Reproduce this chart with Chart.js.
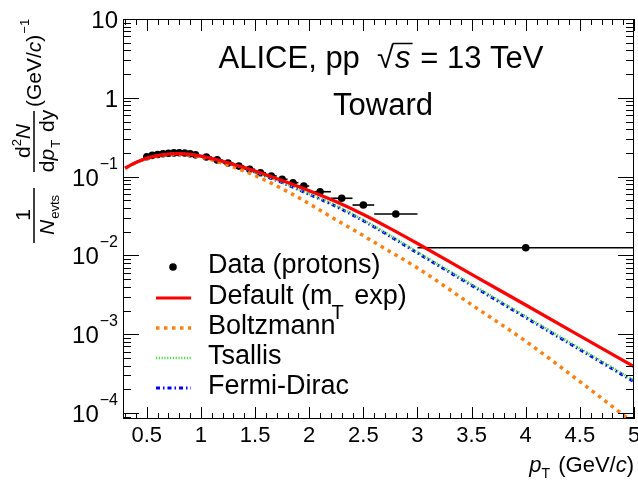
<!DOCTYPE html>
<html>
<head>
<meta charset="utf-8">
<script src="https://cdn.jsdelivr.net/npm/chart.js@4.4.0/dist/chart.umd.min.js"></script>
<style>
  html, body { margin: 0; padding: 0; background: #ffffff; }
</style>
</head>
<body>
<canvas id="graph1" width="638" height="484"></canvas>
<script>
// measured proton yields (Toward region)
const ptData = [0.5, 0.55, 0.6, 0.65, 0.7, 0.75, 0.8, 0.85, 0.9, 0.95, 1.05, 1.15, 1.25, 1.35, 1.45, 1.55, 1.65, 1.75, 1.85, 1.95, 2.1, 2.3, 2.5, 2.8, 4.0];
const ptLow = [0.475, 0.525, 0.575, 0.625, 0.675, 0.725, 0.775, 0.825, 0.875, 0.925, 1.0, 1.1, 1.2, 1.3, 1.4, 1.5, 1.6, 1.7, 1.8, 1.9, 2.0, 2.2, 2.4, 2.6, 3.0];
const ptHigh = [0.525, 0.575, 0.625, 0.675, 0.725, 0.775, 0.825, 0.875, 0.925, 0.975, 1.1, 1.2, 1.3, 1.4, 1.5, 1.6, 1.7, 1.8, 1.9, 2.0, 2.2, 2.4, 2.6, 3.0, 5.0];
const yieldData = [0.179, 0.186, 0.191, 0.195, 0.198, 0.200, 0.201, 0.199, 0.195, 0.189, 0.177, 0.163, 0.149, 0.136, 0.124, 0.112, 0.102, 0.0925, 0.0837, 0.076, 0.0643, 0.0531, 0.0436, 0.0335, 0.0125];

// blast-wave fits
const ptModel = [0.3, 0.4, 0.5, 0.6, 0.7, 0.8, 0.9, 1.0, 1.2, 1.4, 1.6, 1.8, 2.0, 2.25, 2.5, 2.75, 3.0, 3.5, 4.0, 4.5, 5.0];
const defaultFit = [0.1279, 0.1514, 0.1710, 0.1849, 0.1936, 0.1963, 0.1919, 0.1820, 0.1567, 0.1303, 0.1059, 0.0841, 0.0661, 0.0479, 0.0331, 0.0219, 0.01416, 0.00575, 0.00235, 0.000955, 0.000387];
const boltzmannFit = [0.1279, 0.1507, 0.1698, 0.1832, 0.1905, 0.1919, 0.1875, 0.1778, 0.1479, 0.1175, 0.0891, 0.0646, 0.0452, 0.0282, 0.0178, 0.01109, 0.00692, 0.00237, 0.000813, 0.000251, 0.0000741];
const tsallisFit = [0.1279, 0.1514, 0.1710, 0.1849, 0.1936, 0.1963, 0.1919, 0.1820, 0.1556, 0.1274, 0.1016, 0.0794, 0.0605, 0.0427, 0.0282, 0.0178, 0.01104, 0.00430, 0.001683, 0.000661, 0.000259];
const fermiDiracFit = [0.1279, 0.1514, 0.1710, 0.1849, 0.1936, 0.1963, 0.1919, 0.1820, 0.1556, 0.1274, 0.1012, 0.0785, 0.0596, 0.0417, 0.0275, 0.0174, 0.01074, 0.00417, 0.001626, 0.000638, 0.000250];

const xTickLabels = ['0.5', '1', '1.5', '2', '2.5', '3', '3.5', '4', '4.5', '5'];
const xTickValues = [0.5, 1, 1.5, 2, 2.5, 3, 3.5, 4, 4.5, 5];
const yTickValues = [1e-4, 1e-3, 1e-2, 1e-1, 1, 10];
const yTickExp = ['\u22124', '\u22123', '\u22122', '\u22121', '', ''];
const yTickBase = ['10', '10', '10', '10', '1', '10'];

const FONT = '"Liberation Sans", Arial, Helvetica, sans-serif';
const RED = '#ff0000', ORANGE = '#ff8010', GREEN = '#4fd84f', BLUE = '#0000ff';

function pts(xs, ys) {
    return xs.map((v, i) => ({ x: v, y: ys[i] }));
}

// draws a run of text pieces [text, font, dy, extra gap] left to right, returns end x
function runText(ctx, pieces, x, y) {
    pieces.forEach(p => {
        ctx.font = p[1];
        ctx.fillText(p[0], x, y + (p[2] || 0));
        x += ctx.measureText(p[0]).width + (p[3] || 0);
    });
    return x;
}
function runWidth(ctx, pieces) {
    let w = 0;
    pieces.forEach(p => { ctx.font = p[1]; w += ctx.measureText(p[0]).width + (p[3] || 0); });
    return w;
}

const rootFrame = {
    id: 'rootFrame',
    beforeDatasetsDraw(chart) {
        const { ctx, scales: { x, y } } = chart;
        ctx.save();
        ctx.strokeStyle = '#000';
        ctx.lineWidth = 1.6;
        ptData.forEach((v, i) => {
            const py = y.getPixelForValue(yieldData[i]);
            ctx.beginPath();
            ctx.moveTo(x.getPixelForValue(ptLow[i]), py);
            ctx.lineTo(x.getPixelForValue(ptHigh[i]), py);
            ctx.stroke();
        });
        ctx.restore();
    },
    afterDatasetsDraw(chart) {
        const { ctx, chartArea: a, scales: { x, y } } = chart;
        ctx.save();
        ctx.strokeStyle = '#000';
        ctx.fillStyle = '#000';
        ctx.lineWidth = 1;
        ctx.strokeRect(a.left + 0.5, a.top + 0.5, a.right - a.left - 1, a.bottom - a.top - 1);

        // x ticks, inward, top and bottom
        ctx.beginPath();
        for (let i = 3; i <= 50; i++) {
            const v = i / 10;
            const px = Math.round(x.getPixelForValue(v)) + 0.5;
            const len = (i % 5 === 0) ? 12 : 6;
            ctx.moveTo(px, a.bottom);
            ctx.lineTo(px, a.bottom - len);
            ctx.moveTo(px, a.top);
            ctx.lineTo(px, a.top + len);
        }
        // y ticks, log, left and right
        for (let d = -5; d <= 1; d++) {
            for (let k = 1; k <= 9; k++) {
                const v = k * Math.pow(10, d);
                if (v < y.min || v > y.max) continue;
                const py = Math.round(y.getPixelForValue(v)) + 0.5;
                const len = (k === 1) ? 16 : 8;
                ctx.moveTo(a.left, py);
                ctx.lineTo(a.left + len, py);
                ctx.moveTo(a.right, py);
                ctx.lineTo(a.right - len, py);
            }
        }
        ctx.stroke();

        // x tick labels
        ctx.font = '22px ' + FONT;
        ctx.textAlign = 'center';
        ctx.textBaseline = 'alphabetic';
        xTickValues.forEach((v, i) => {
            ctx.fillText(xTickLabels[i], x.getPixelForValue(v), a.bottom + 23);
        });

        // y tick labels
        ctx.textAlign = 'right';
        yTickValues.forEach((v, i) => {
            const py = y.getPixelForValue(v);
            let right = a.left - 5;
            if (yTickExp[i]) {
                ctx.font = '16px ' + FONT;
                ctx.fillText(yTickExp[i], right, py - 8);
                right -= ctx.measureText(yTickExp[i]).width + 1;
            }
            ctx.font = '24px ' + FONT;
            ctx.fillText(yTickBase[i], right, py + 9);
        });

        // x title
        ctx.textAlign = 'left';
        const xt = [['p', 'italic 22px ' + FONT, 0], ['T', '14px ' + FONT, 6, 2], [' (GeV/', '22px ' + FONT, 0], ['c', 'italic 22px ' + FONT, 0], [')', '22px ' + FONT, 0]];
        runText(ctx, xt, a.right - runWidth(ctx, xt), 472);

        // y title, rotated
        const tf = '21px ' + FONT, tfi = 'italic 21px ' + FONT, sf = '13px ' + FONT;
        ctx.save();
        ctx.rotate(-Math.PI / 2);
        ctx.lineWidth = 1.5;
        ctx.beginPath();
        ctx.moveTo(-243, 34); ctx.lineTo(-188, 34);
        ctx.moveTo(-172, 34); ctx.lineTo(-111, 34);
        ctx.stroke();
        ctx.textAlign = 'left';
        const f1n = [['1', tf, 0]];
        runText(ctx, f1n, -215 - runWidth(ctx, f1n) / 2, 30);
        const f1d = [['N', tfi, 0, 1], ['evts', sf, 5]];
        runText(ctx, f1d, -215 - runWidth(ctx, f1d) / 2, 54);
        const f2n = [['d', tf, 0], ['2', sf, -9], ['N', tfi, 0]];
        runText(ctx, f2n, -141 - runWidth(ctx, f2n) / 2, 30);
        const f2d = [['d', tf, 0], ['p', tfi, 0, 1], ['T', sf, 6, 2], [' dy', tf, 0]];
        runText(ctx, f2d, -141 - runWidth(ctx, f2d) / 2, 54);
        const u1 = [['(GeV/', tf, 0], ['c', tfi, 0], [')', tf, 0, 1], ['\u22121', sf, -12]];
        runText(ctx, u1, -107, 41);
        ctx.restore();

        // header text
        const big = '31px ' + FONT;
        const h1a = 'ALICE, pp  ';
        ctx.font = big;
        const wA = ctx.measureText(h1a).width;
        const wRoot = ctx.measureText('\u221A').width;
        ctx.font = 'italic ' + big;
        const wS = ctx.measureText('s').width;
        ctx.font = big;
        const h1b = ' = 13 TeV';
        const wB = ctx.measureText(h1b).width;
        const total = wA + wRoot + wS + 2 + wB;
        let hx = 381 - total / 2;
        ctx.fillText(h1a, hx, 68); hx += wA;
        ctx.fillText('\u221A', hx, 68);
        ctx.lineWidth = 1.5;
        ctx.beginPath();
        ctx.moveTo(hx + wRoot - 1, 43.5); ctx.lineTo(hx + wRoot + wS + 3, 43.5);
        ctx.stroke();
        hx += wRoot + 1;
        ctx.font = 'italic ' + big;
        ctx.fillText('s', hx, 68); hx += wS + 1;
        ctx.font = big;
        ctx.fillText(h1b, hx, 68);
        ctx.textAlign = 'center';
        ctx.fillText('Toward', 383, 115);

        // legend
        const leg = '27px ' + FONT;
        ctx.textAlign = 'left';
        ctx.beginPath();
        ctx.arc(173, 267, 3.8, 0, Math.PI * 2);
        ctx.fill();
        const samples = [
            [298, RED, 3.2, []],
            [328, ORANGE, 3.5, [3.5, 4.5]],
            [358, GREEN, 2.6, [1.2, 1.6]],
            [388, BLUE, 3, [4, 3, 1.5, 3]]
        ];
        samples.forEach(s => {
            ctx.save();
            ctx.strokeStyle = s[1];
            ctx.lineWidth = s[2];
            ctx.setLineDash(s[3]);
            ctx.beginPath();
            ctx.moveTo(156, s[0]); ctx.lineTo(191, s[0]);
            ctx.stroke();
            ctx.restore();
        });
        ctx.font = leg;
        ctx.fillText('Data (protons)', 208, 273);
        let lx = runText(ctx, [['Default (m', leg, 0]], 208, 304);
        ctx.font = '20px ' + FONT;
        ctx.fillText('T', lx - 1, 319);
        lx += ctx.measureText('T').width + 4;
        ctx.font = leg;
        ctx.fillText(' exp)', lx - 2, 304);
        ctx.fillText('Boltzmann', 208, 334);
        ctx.fillText('Tsallis', 208, 364);
        ctx.fillText('Fermi-Dirac', 208, 394);
        ctx.restore();
    }
};

const chart1 = document.getElementById('graph1').getContext('2d');
const myChart1 = new Chart(chart1, {
    type: 'line',
    data: {
        datasets: [
            {
                label: 'Default (mT exp)',
                data: pts(ptModel, defaultFit),
                borderColor: RED,
                borderWidth: 3.2,
                pointRadius: 0,
                cubicInterpolationMode: 'monotone'
            },
            {
                label: 'Boltzmann',
                data: pts(ptModel, boltzmannFit),
                borderColor: ORANGE,
                borderWidth: 3.5,
                borderDash: [3.5, 4.5],
                pointRadius: 0,
                cubicInterpolationMode: 'monotone'
            },
            {
                label: 'Tsallis',
                data: pts(ptModel, tsallisFit),
                borderColor: GREEN,
                borderWidth: 2.6,
                borderDash: [1.2, 1.6],
                pointRadius: 0,
                cubicInterpolationMode: 'monotone'
            },
            {
                label: 'Fermi-Dirac',
                data: pts(ptModel, fermiDiracFit),
                borderColor: BLUE,
                borderWidth: 3,
                borderDash: [4, 3, 1.5, 3],
                pointRadius: 0,
                cubicInterpolationMode: 'monotone'
            },
            {
                label: 'Data (protons)',
                data: pts(ptData, yieldData),
                showLine: false,
                pointRadius: 3.8,
                pointBackgroundColor: '#000',
                pointBorderColor: '#000',
                pointBorderWidth: 0
            }
        ]
    },
    options: {
        responsive: false,
        animation: false,
        devicePixelRatio: 1,
        layout: { padding: { left: 123, right: 4, top: 19, bottom: 65 } },
        scales: {
            x: { type: 'linear', display: false, min: 0.28, max: 5.0 },
            y: { type: 'logarithmic', display: false, min: 8.4e-5, max: 10 }
        },
        plugins: {
            legend: { display: false },
            tooltip: { enabled: false }
        }
    },
    plugins: [rootFrame]
});
</script>
</body>
</html>
